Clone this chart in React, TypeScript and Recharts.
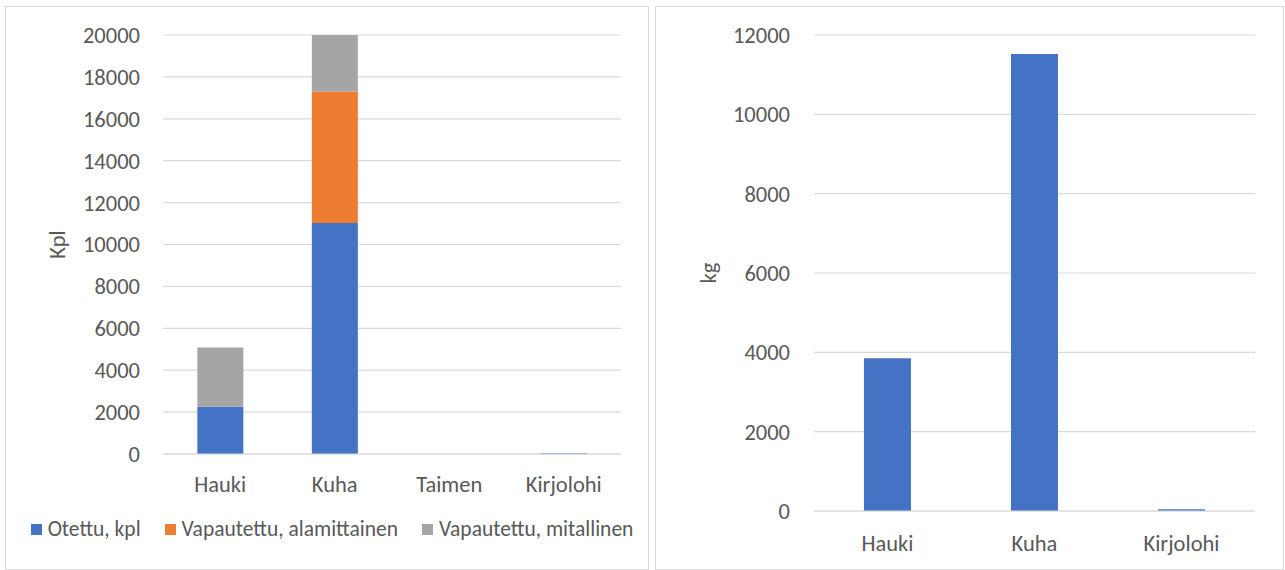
import React from 'react';
import { BarChart, Bar, XAxis, YAxis, CartesianGrid, Legend } from 'recharts';

const leftCategories = ['Hauki', 'Kuha', 'Taimen', 'Kirjolohi'];
const otettuKpl = [2260, 11030, 0, 40];
const vapautettuAlamittainen = [0, 6270, 0, 0];
const vapautettuMitallinen = [2820, 2700, 0, 0];
const leftTicks = [0, 2000, 4000, 6000, 8000, 10000, 12000, 14000, 16000, 18000, 20000];

const rightCategories = ['Hauki', 'Kuha', 'Kirjolohi'];
const kgValues = [3850, 11520, 45];
const rightTicks = [0, 2000, 4000, 6000, 8000, 10000, 12000];

const seriesNames = ['Otettu, kpl', 'Vapautettu, alamittainen', 'Vapautettu, mitallinen'];
const COLORS = ['#4472C4', '#ED7D31', '#A5A5A5'];

const FONT = 'Carlito, Calibri, Lato, sans-serif';
const TEXT = '#595959';
const GRID = '#D9D9D9';
const TICK_SIZE = 22.5;
const LEGEND_SIZE = 21.5;

const leftData = leftCategories.map((c, i) => ({
  name: c,
  otettu: otettuKpl[i],
  alamittainen: vapautettuAlamittainen[i],
  mitallinen: vapautettuMitallinen[i],
}));

const rightData = rightCategories.map((c, i) => ({ name: c, kg: kgValues[i] }));

const makeYLabel = (text: string, dx: number) => (props: any) => {
  const vb = props.viewBox || {};
  const x = vb.x + dx;
  const y = vb.y + vb.height / 2;
  return (
    <text
      x={x}
      y={y}
      transform={`rotate(-90, ${x}, ${y})`}
      textAnchor="middle"
      dominantBaseline="central"
      fill={TEXT}
      fontFamily={FONT}
      fontSize={TICK_SIZE}
    >
      {text}
    </text>
  );
};

const LegendContent = () => (
  <div
    style={{
      display: 'flex',
      justifyContent: 'center',
      alignItems: 'center',
      height: 24,
      paddingLeft: 10,
      fontFamily: FONT,
      fontSize: LEGEND_SIZE,
      color: TEXT,
      whiteSpace: 'nowrap',
    }}
  >
    {seriesNames.map((n, i) => (
      <div key={n} style={{ display: 'flex', alignItems: 'center', marginRight: i < seriesNames.length - 1 ? 24 : 0 }}>
        <span style={{ display: 'inline-block', width: 11, height: 11, background: COLORS[i], marginRight: 6 }} />
        <span>{n}</span>
      </div>
    ))}
  </div>
);

const tickStyle = { fill: TEXT, fontSize: TICK_SIZE, fontFamily: FONT };

export default function App() {
  return (
    <div style={{ position: 'absolute', left: 0, top: 0, width: 1285, height: 570, background: '#fff' }}>
      <div
        style={{
          position: 'absolute',
          left: 5,
          top: 6,
          width: 644,
          height: 564,
          border: `1px solid ${GRID}`,
          boxSizing: 'border-box',
        }}
      >
        <BarChart
          width={642}
          height={562}
          data={leftData}
          margin={{ top: 28, right: 27, bottom: 28, left: 20 }}
          barCategoryGap="30%"
        >
          <CartesianGrid vertical={false} stroke={GRID} strokeWidth={1.2} />
          <XAxis
            dataKey="name"
            tickLine={false}
            axisLine={{ stroke: GRID, strokeWidth: 1.2 }}
            tickSize={0}
            tickMargin={22}
            height={63}
            tick={tickStyle}
            interval={0}
          />
          <YAxis
            width={137}
            domain={[0, 20000]}
            ticks={leftTicks}
            tickLine={false}
            axisLine={false}
            tickSize={0}
            tickMargin={23}
            tick={tickStyle}
            interval={0}
            label={{ value: 'Kpl', content: makeYLabel('Kpl', 31) }}
          />
          <Legend
            verticalAlign="bottom"
            height={24}
            content={<LegendContent />}
            wrapperStyle={{ left: 0, width: 642 }}
          />
          <Bar dataKey="otettu" name={seriesNames[0]} stackId="a" fill={COLORS[0]} isAnimationActive={false} />
          <Bar dataKey="alamittainen" name={seriesNames[1]} stackId="a" fill={COLORS[1]} isAnimationActive={false} />
          <Bar dataKey="mitallinen" name={seriesNames[2]} stackId="a" fill={COLORS[2]} isAnimationActive={false} />
        </BarChart>
      </div>
      <div
        style={{
          position: 'absolute',
          left: 655,
          top: 6,
          width: 629,
          height: 564,
          border: `1px solid ${GRID}`,
          boxSizing: 'border-box',
        }}
      >
        <BarChart
          width={627}
          height={562}
          data={rightData}
          margin={{ top: 28, right: 28, bottom: 0, left: 20 }}
          barCategoryGap="34%"
        >
          <CartesianGrid vertical={false} stroke={GRID} strokeWidth={1.2} />
          <XAxis
            dataKey="name"
            tickLine={false}
            axisLine={{ stroke: GRID, strokeWidth: 1.2 }}
            tickSize={0}
            tickMargin={24}
            height={58}
            tick={tickStyle}
            interval={0}
          />
          <YAxis
            width={138}
            domain={[0, 12000]}
            ticks={rightTicks}
            tickLine={false}
            axisLine={false}
            tickSize={0}
            tickMargin={24}
            tick={tickStyle}
            interval={0}
            label={{ value: 'kg', content: makeYLabel('kg', 32) }}
          />
          <Bar dataKey="kg" name="kg" fill={COLORS[0]} isAnimationActive={false} />
        </BarChart>
      </div>
    </div>
  );
}
